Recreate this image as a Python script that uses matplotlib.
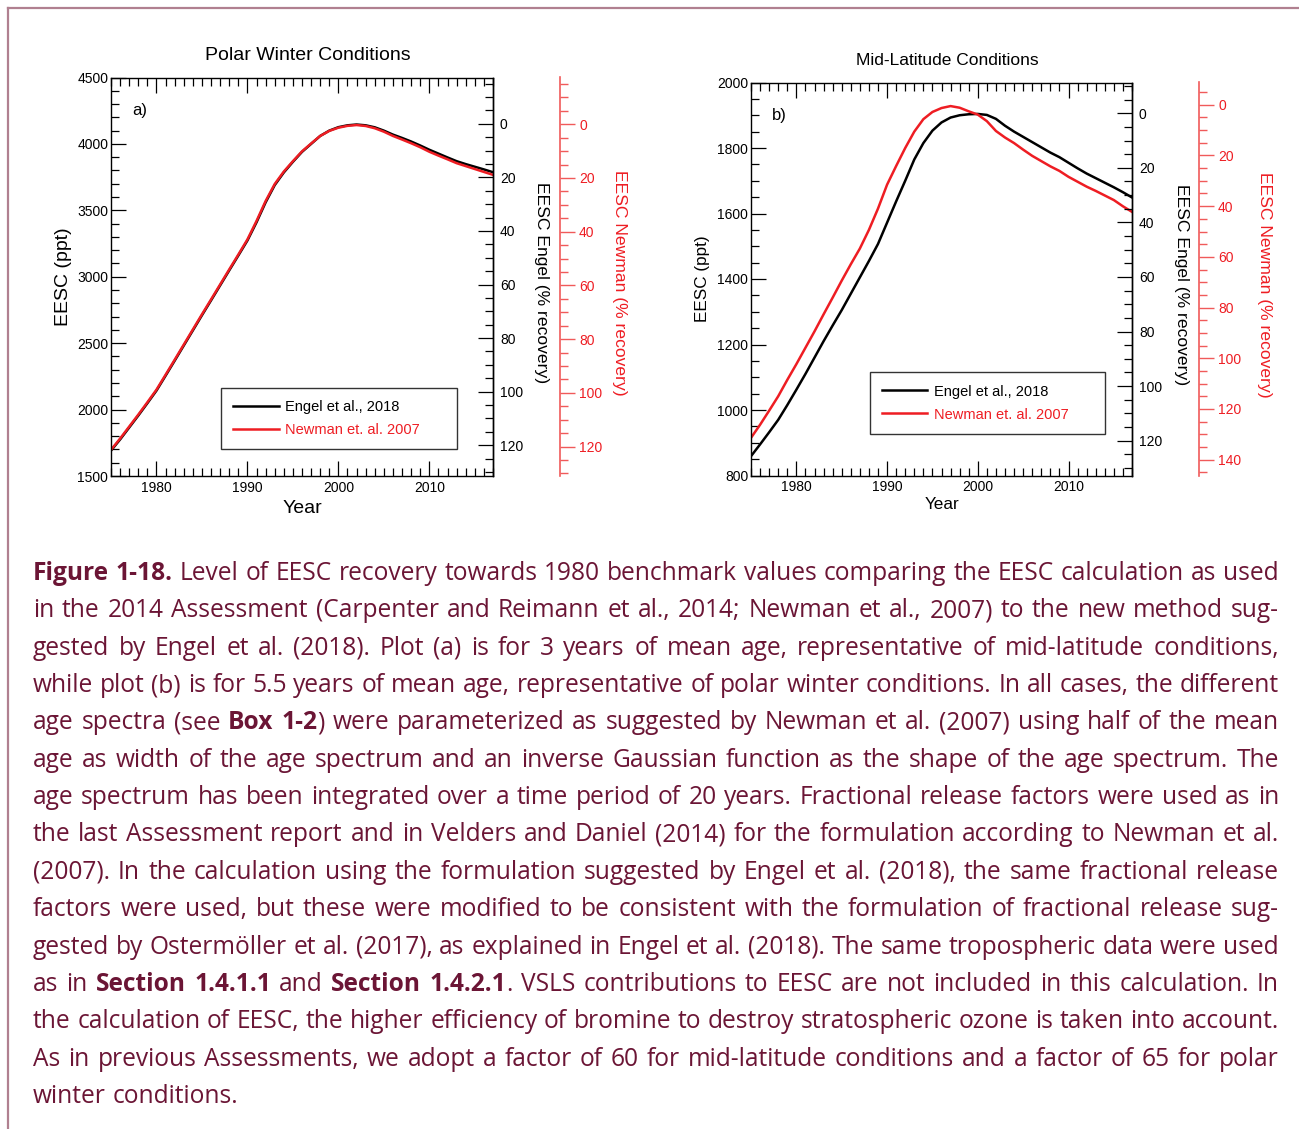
import matplotlib
matplotlib.use("Agg")
import matplotlib.pyplot as plt
from matplotlib.ticker import MultipleLocator
from matplotlib.lines import Line2D

plt.rcParams['font.family'] = ['Liberation Sans', 'DejaVu Sans']

# ---- data ----
years = list(range(1975, 2018))

polar_engel = [1691, 1775, 1865, 1955, 2048, 2143, 2255, 2368, 2482, 2596,
               2710, 2822, 2935, 3048, 3160, 3273, 3410, 3560, 3690, 3785,
               3865, 3940, 4000, 4060, 4100, 4126, 4140, 4146, 4140, 4125,
               4100, 4070, 4045, 4018, 3988, 3956, 3927, 3898, 3870, 3848,
               3828, 3808, 3787]
polar_newman = [1697, 1782, 1872, 1962, 2055, 2150, 2262, 2375, 2489, 2603,
                2717, 2829, 2942, 3055, 3167, 3281, 3420, 3570, 3698, 3792,
                3870, 3944, 4003, 4060, 4098, 4122, 4136, 4142, 4135, 4118,
                4092, 4060, 4033, 4005, 3975, 3941, 3912, 3884, 3855, 3833,
                3811, 3789, 3767]
midlat_engel = [859, 895, 932, 970, 1015, 1062, 1110, 1160, 1210, 1258,
                1305, 1355, 1405, 1455, 1507, 1572, 1637, 1700, 1765, 1815,
                1853, 1878, 1893, 1900, 1903, 1904, 1901, 1889, 1868, 1850,
                1834, 1818, 1802, 1786, 1772, 1755, 1738, 1722, 1708, 1694,
                1680, 1665, 1649]
midlat_newman = [915, 955, 998, 1042, 1092, 1140, 1190, 1240, 1292, 1343,
                 1395, 1445, 1493, 1550, 1615, 1688, 1745, 1800, 1850, 1888,
                 1910, 1922, 1928, 1923, 1912, 1902, 1882, 1852, 1832, 1815,
                 1795, 1776, 1760, 1744, 1730, 1712, 1697, 1682, 1669, 1655,
                 1641, 1622, 1605]

# % recovery scales: (EESC at 0 %, EESC at 100 %)
polar_engel_scale = (4151, 2135)
polar_newman_scale = (4148, 2126)
midlat_engel_scale = (1906, 1073)
midlat_newman_scale = (1932, 1158)

labels = ["Engel et al., 2018", "Newman et. al. 2007"]

caption = [
    "*Figure 1-18.* Level of EESC recovery towards 1980 benchmark values comparing the EESC calculation as used",
    "in the 2014 Assessment (Carpenter and Reimann et al., 2014; Newman et al., 2007) to the new method sug-",
    "gested by Engel et al. (2018). Plot (a) is for 3 years of mean age, representative of mid-latitude conditions,",
    "while plot (b) is for 5.5 years of mean age, representative of polar winter conditions. In all cases, the different",
    "age spectra (see *Box 1-2*) were parameterized as suggested by Newman et al. (2007) using half of the mean",
    "age as width of the age spectrum and an inverse Gaussian function as the shape of the age spectrum. The",
    "age spectrum has been integrated over a time period of 20 years. Fractional release factors were used as in",
    "the last Assessment report and in Velders and Daniel (2014) for the formulation according to Newman et al.",
    "(2007). In the calculation using the formulation suggested by Engel et al. (2018), the same fractional release",
    "factors were used, but these were modified to be consistent with the formulation of fractional release sug-",
    "gested by Ostermöller et al. (2017), as explained in Engel et al. (2018). The same tropospheric data were used",
    "as in *Section 1.4.1.1* and *Section 1.4.2.1*. VSLS contributions to EESC are not included in this calculation. In",
    "the calculation of EESC, the higher efficiency of bromine to destroy stratospheric ozone is taken into account.",
    "As in previous Assessments, we adopt a factor of 60 for mid-latitude conditions and a factor of 65 for polar",
    "winter conditions.",
]

RED = '#ee1d23'
AXRED = '#f05a5a'
CAPCOL = '#6b1535'

W, H = 1299, 1129
fig = plt.figure(figsize=(W / 100, H / 100), dpi=100)


def pct_of(scale):
    top, base = scale
    return lambda e: (top - e) / (top - base) * 100.0


def panel(box, engel, newman, ylim, major, minor, escale, nscale,
          title, tag, fs_lab, fs_title, leg_box, lab_x):
    l, t, r, b = box
    ax = fig.add_axes([l / W, 1 - b / H, (r - l) / W, (b - t) / H])
    ax.plot(years, engel, color='black', lw=1.8, label=labels[0])
    ax.plot(years, newman, color=RED, lw=1.8, label=labels[1])
    ax.set_xlim(1975, 2017)
    ax.set_ylim(*ylim)
    ax.xaxis.set_major_locator(MultipleLocator(10))
    ax.xaxis.set_minor_locator(MultipleLocator(1))
    ax.yaxis.set_major_locator(MultipleLocator(major))
    ax.yaxis.set_minor_locator(MultipleLocator(minor))
    ax.tick_params(which='both', direction='in', top=True, right=False,
                   labelsize=10, width=0.9)
    ax.tick_params(axis='y', pad=2)
    ax.tick_params(which='major', length=11)
    ax.tick_params(which='minor', length=5.5)
    for s in ax.spines.values():
        s.set_linewidth(1.0)
    ax.set_xlabel("Year", fontsize=fs_lab)
    ax.set_ylabel("EESC (ppt)", fontsize=fs_lab)
    ax.xaxis.set_label_coords(0.502, lab_x[0])
    ax.yaxis.set_label_coords(lab_x[1], 0.5)
    ax.text(0.514, lab_x[2], title, transform=ax.transAxes,
            ha='center', va='center', fontsize=fs_title)
    ax.text(0.055, 0.917, tag, transform=ax.transAxes,
            ha='left', va='center', fontsize=12)

    leg = ax.legend(loc='lower left', bbox_to_anchor=leg_box, mode='expand',
                    borderaxespad=0, fontsize=10.5, fancybox=False,
                    edgecolor='#333333', handlelength=3.1, handletextpad=0.45,
                    labelspacing=0.62, borderpad=0.85, framealpha=1)
    leg.get_frame().set_linewidth(1.0)
    leg.get_texts()[1].set_color(RED)

    # Engel % recovery axis (on the plot frame)
    f = pct_of(escale)
    ax2 = ax.twinx()
    ax2.set_ylim(f(ylim[0]), f(ylim[1]))
    ax2.yaxis.set_major_locator(MultipleLocator(20))
    ax2.yaxis.set_minor_locator(MultipleLocator(5))
    ax2.tick_params(which='both', direction='in', labelsize=10, pad=5, width=0.9)
    ax2.tick_params(which='major', length=11)
    ax2.tick_params(which='minor', length=5.5)
    for s in ['top', 'bottom', 'left']:
        ax2.spines[s].set_visible(False)
    ax2.spines['right'].set_linewidth(1.0)
    ax2.set_ylabel("EESC Engel (% recovery)", rotation=270, va='center',
                   fontsize=12.6)
    ax2.yaxis.set_label_coords(lab_x[3], 0.485)

    # Newman % recovery axis (offset, red)
    g = pct_of(nscale)
    ax3 = ax.twinx()
    ax3.set_ylim(g(ylim[0]), g(ylim[1]))
    ax3.spines['right'].set_position(('outward', 48))
    for s in ['top', 'bottom', 'left']:
        ax3.spines[s].set_visible(False)
    ax3.spines['right'].set_color(AXRED)
    ax3.spines['right'].set_linewidth(1.2)
    ax3.yaxis.set_major_locator(MultipleLocator(20))
    ax3.yaxis.set_minor_locator(MultipleLocator(5))
    ax3.tick_params(which='both', direction='out', colors=AXRED,
                    labelcolor=RED, labelsize=10, pad=3, width=1.0)
    ax3.tick_params(which='major', length=11)
    ax3.tick_params(which='minor', length=5.5)
    ax3.set_ylabel("EESC Newman (% recovery)", rotation=270, va='center',
                   fontsize=12.6, color=RED)
    ax3.yaxis.set_label_coords(lab_x[4], 0.485)
    return ax


panel((111, 77.5, 493, 476), polar_engel, polar_newman, (1500, 4500), 500, 100,
      polar_engel_scale, polar_newman_scale, "Polar Winter Conditions", "a)",
      14, 14, (0.288, 0.0665, 0.618, 0.15), (-0.061, -0.102, 1.056, 1.126, 1.332))
panel((751, 82.5, 1132, 475.5), midlat_engel, midlat_newman, (800, 2000), 200, 50,
      midlat_engel_scale, midlat_newman_scale, "Mid-Latitude Conditions", "b)",
      12.3, 12.5, (0.312, 0.1057, 0.617, 0.15), (-0.055, -0.108, 1.055, 1.131, 1.349))

# page frame
fig.add_artist(Line2D([8 / W, 1], [1 - 8 / H, 1 - 8 / H], transform=fig.transFigure,
                      color='#b08090', lw=1.6))
fig.add_artist(Line2D([8 / W, 8 / W], [1 - 8 / H, 0], transform=fig.transFigure,
                      color='#b08090', lw=1.6))

# ---- caption, justified word by word ----
cap_font = ['Open Sans', 'DejaVu Sans']
cap_left, cap_right = 33, 1279
base0, step = 580, 37.35
renderer = fig.canvas.get_renderer()


def parse(line):
    words, bold = [], False
    for w in line.split(' '):
        segs, buf = [], ''
        for ch in w:
            if ch == '*':
                if buf:
                    segs.append((buf, bold))
                buf, bold = '', not bold
            else:
                buf += ch
        if buf:
            segs.append((buf, bold))
        words.append(segs)
    return words


def seg_width(txt, bold, fs):
    t = fig.text(0, 0, txt, fontsize=fs, family=cap_font,
                 fontweight='bold' if bold else 'normal')
    wpx = t.get_window_extent(renderer).width
    t.remove()
    return wpx


parsed = [parse(l) for l in caption]
fs0 = 16
space0 = seg_width('a a', False, fs0) - seg_width('aa', False, fs0)
natural = []
for words in parsed:
    tot = sum(seg_width(s, b, fs0) for w in words for s, b in w)
    natural.append(tot + space0 * (len(words) - 1))
fs = fs0 * (cap_right - cap_left) / max(natural) * 0.998
space = space0 * fs / fs0

for i, words in enumerate(parsed):
    widths = [[seg_width(s, b, fs) for s, b in w] for w in words]
    total = sum(sum(w) for w in widths)
    last = i == len(parsed) - 1
    gap = space if last else (cap_right - cap_left - total) / (len(words) - 1)
    x = cap_left
    y = base0 + i * step
    for w, ws in zip(words, widths):
        for (s, b), sw in zip(w, ws):
            fig.text(x / W, 1 - y / H, s, fontsize=fs, family=cap_font,
                     fontweight='bold' if b else 'normal', color=CAPCOL,
                     ha='left', va='baseline')
            x += sw
        x += gap

fig.savefig("out.png", dpi=100)
